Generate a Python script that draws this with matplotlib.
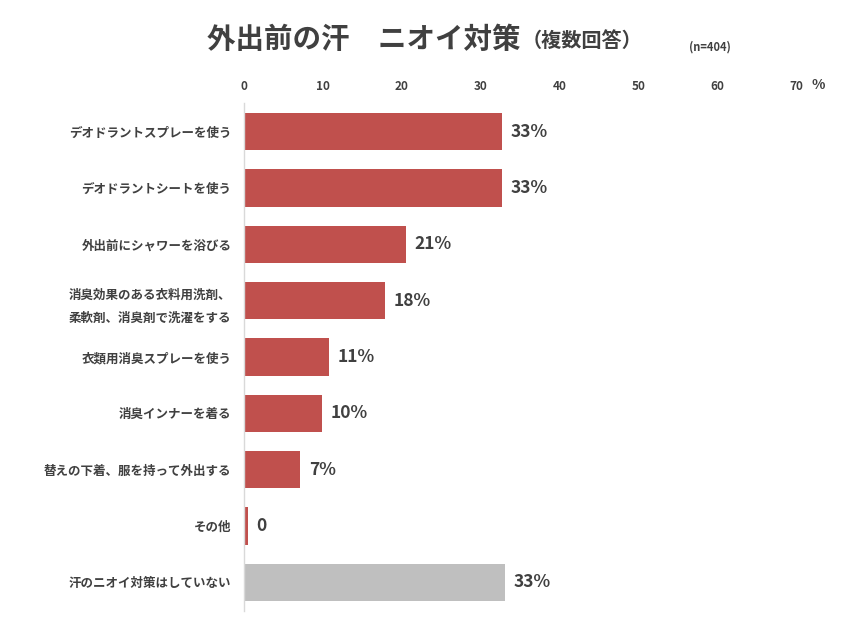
import matplotlib
matplotlib.use("Agg")
import matplotlib.pyplot as plt

plt.rcParams['font.family'] = ['Noto Sans CJK JP', 'DejaVu Sans']

categories = [
    "デオドラントスプレーを使う",
    "デオドラントシートを使う",
    "外出前にシャワーを浴びる",
    "消臭効果のある衣料用洗剤、\n柔軟剤、消臭剤で洗濯をする",
    "衣類用消臭スプレーを使う",
    "消臭インナーを着る",
    "替えの下着、服を持って外出する",
    "その他",
    "汗のニオイ対策はしていない",
]
values = [32.7, 32.7, 20.5, 17.9, 10.8, 9.9, 7.1, 0.5, 33.1]
value_labels = ["33%", "33%", "21%", "18%", "11%", "10%", "7%", "0", "33%"]
colors = ["#C0504D"] * 8 + ["#BFBFBF"]
xticks = [0, 10, 20, 30, 40, 50, 60, 70]

text_color = "#404040"

fig = plt.figure(figsize=(8.53, 6.40), dpi=100)
ax = fig.add_axes([244/853, 1-610.5/640, (796-244)/853, (610.5-103.5)/640])

ypos = list(range(len(categories)))
ax.barh(ypos, values, height=0.66, color=colors, zorder=2)
ax.set_ylim(len(categories) - 0.5, -0.5)
ax.set_xlim(0, 70)

for y, v, lab in zip(ypos, values, value_labels):
    ax.text(v + 1.1, y, lab, va='center', ha='left', fontsize=12.5,
            fontweight='bold', color=text_color)

ax.set_yticks(ypos)
ax.set_yticklabels(categories, fontsize=9, fontweight='bold', color=text_color,
                   linespacing=2.0)
ax.xaxis.tick_top()
ax.set_xticks(xticks)
ax.set_xticklabels([str(t) for t in xticks], fontsize=8.5, fontweight='bold', color=text_color)
ax.tick_params(axis='both', length=0)
ax.tick_params(axis='x', pad=7.5)
ax.tick_params(axis='y', pad=9)

for s in ['top', 'right', 'bottom']:
    ax.spines[s].set_visible(False)
ax.spines['left'].set_color('#D9D9D9')
ax.spines['left'].set_linewidth(1.0)

fig.text(818/853, 1-85/640, "%", fontsize=10, fontweight='bold', color=text_color,
         ha='center', va='center')

fig.text(207/853, 1-40/640, "外出前の汗　ニオイ対策", fontsize=20.5, fontweight='bold',
         color=text_color, ha='left', va='center')
fig.text(522/853, 1-40/640, "（複数回答）", fontsize=14.5, fontweight='bold',
         color=text_color, ha='left', va='center')
fig.text(710/853, 1-47/640, "(n=404)", fontsize=8, fontweight='bold',
         color=text_color, ha='center', va='center')

fig.savefig("out.png", dpi=100, facecolor='white')
